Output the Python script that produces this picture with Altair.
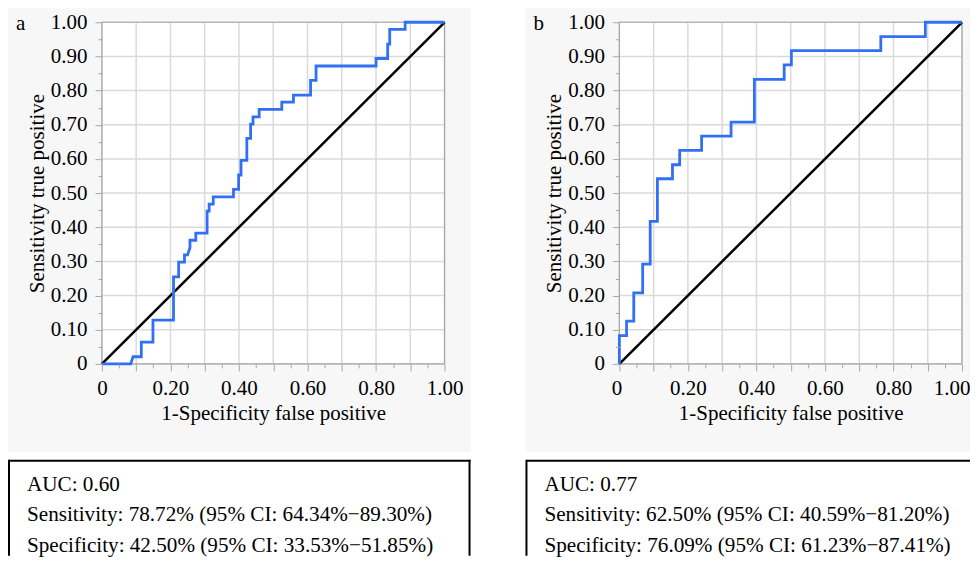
import altair as alt
import pandas as pd

# ROC curve vertices (1-specificity, sensitivity)
fpr_a = [0, 0.084, 0.091, 0.115, 0.115, 0.149, 0.149, 0.209, 0.209, 0.224, 0.224, 0.241, 0.241,
         0.250, 0.257, 0.257, 0.274, 0.274, 0.307, 0.307, 0.313, 0.313, 0.325, 0.325, 0.384, 0.384,
         0.399, 0.399, 0.406, 0.406, 0.423, 0.423, 0.434, 0.434, 0.441, 0.441, 0.459, 0.459, 0.525,
         0.525, 0.559, 0.559, 0.609, 0.609, 0.625, 0.625, 0.800, 0.800, 0.834, 0.834, 0.840, 0.840,
         0.885, 0.885, 1.0]
tpr_a = [0, 0, 0.021, 0.021, 0.064, 0.064, 0.128, 0.128, 0.255, 0.255, 0.298, 0.298, 0.319,
         0.319, 0.340, 0.362, 0.362, 0.383, 0.383, 0.447, 0.447, 0.468, 0.468, 0.489, 0.489, 0.511,
         0.511, 0.553, 0.553, 0.596, 0.596, 0.660, 0.660, 0.702, 0.702, 0.723, 0.723, 0.745, 0.745,
         0.766, 0.766, 0.787, 0.787, 0.830, 0.830, 0.872, 0.872, 0.894, 0.894, 0.936, 0.936, 0.979,
         0.979, 1.0, 1.0]

fpr_b = [0, 0, 0.021, 0.021, 0.042, 0.042, 0.068, 0.068, 0.090, 0.090, 0.111, 0.111, 0.155, 0.155,
         0.176, 0.176, 0.240, 0.240, 0.326, 0.326, 0.394, 0.394, 0.481, 0.481, 0.502, 0.502, 0.763,
         0.763, 0.893, 0.893, 1.0]
tpr_b = [0, 0.083, 0.083, 0.125, 0.125, 0.208, 0.208, 0.292, 0.292, 0.417, 0.417, 0.542, 0.542,
         0.583, 0.583, 0.625, 0.625, 0.667, 0.667, 0.708, 0.708, 0.833, 0.833, 0.875, 0.875, 0.917,
         0.917, 0.958, 0.958, 1.0, 1.0]

diag = [0, 1]
grid_vals = [0.0, 0.1, 0.2, 0.3, 0.4, 0.5, 0.6, 0.7, 0.8, 0.9, 1.0]
tick_vals = [0.0, 0.05, 0.1, 0.15, 0.2, 0.25, 0.3, 0.35, 0.4, 0.45, 0.5, 0.55, 0.6, 0.65, 0.7,
             0.75, 0.8, 0.85, 0.9, 0.95, 1.0]

stats_a = ["AUC: 0.60",
           "Sensitivity: 78.72% (95% CI: 64.34%\u221289.30%)",
           "Specificity: 42.50% (95% CI: 33.53%\u221251.85%)"]
stats_b = ["AUC: 0.77",
           "Sensitivity: 62.50% (95% CI: 40.59%\u221281.20%)",
           "Specificity: 76.09% (95% CI: 61.23%\u221287.41%)"]

W, H = 343, 342
FONT = "Liberation Serif"
BLUE = "#3170f4"
GRID = "#dadada"
FRAME = "#a8a8a8"
BOTTOM = 534

major20 = "round(datum.value*20)%2==0"


def axes(flush):
    if flush:
        extra = dict(labelFlush=True, labelFlushOffset=8)
    else:
        extra = dict(labelFlush=False)
    x_axis = alt.Axis(
        values=tick_vals, grid=False, domain=False, zindex=1,
        tickColor=FRAME, tickWidth=1,
        tickSize={"condition": {"test": major20, "value": 7}, "value": 4},
        labelExpr="datum.value==0 ? '0' : (round(datum.value*20)%4==0 ? format(datum.value,'.2f') : '')",
        labelFont=FONT, labelFontSize=21, labelColor="black", labelPadding=7,
        labelOverlap=False,
        title="1-Specificity false positive", titleFont=FONT, titleFontSize=21,
        titleFontWeight="normal", titleColor="black", titlePadding=4, **extra)
    y_axis = alt.Axis(
        values=tick_vals, grid=False, domain=False, zindex=1,
        tickColor=FRAME, tickWidth=1,
        tickSize={"condition": {"test": major20, "value": 7}, "value": 4},
        labelExpr="datum.value==0 ? '0' : (" + major20 + " ? format(datum.value,'.2f') : '')",
        labelFont=FONT, labelFontSize=21, labelColor="black", labelPadding=8,
        labelOverlap=False, labelFlush=False,
        title="Sensitivity true positive", titleFont=FONT, titleFontSize=21,
        titleFontWeight="normal", titleColor="black", titlePadding=3)
    return x_axis, y_axis


def panel(fpr, tpr, letter, stats, right, right_border, flush):
    x_axis, y_axis = axes(flush)
    xs = alt.Scale(domain=[0, 1], nice=False, zero=False)
    ys = alt.Scale(domain=[0, 1], nice=False, zero=False)
    one = pd.DataFrame({"k": [0]})

    bg = alt.Chart(one).mark_rect(color="#f7f7f7").encode(
        x=alt.value(-94), x2=alt.value(right), y=alt.value(-14), y2=alt.value(430))
    plotbg = alt.Chart(one).mark_rect(color="white").encode(
        x=alt.value(0), x2=alt.value(W), y=alt.value(0), y2=alt.value(H))
    g = pd.DataFrame({"g": grid_vals})
    vgrid = alt.Chart(g).mark_rule(color=GRID, strokeWidth=1.5).encode(
        x=alt.X("g:Q", scale=xs, axis=x_axis))
    hgrid = alt.Chart(g).mark_rule(color=GRID, strokeWidth=1.5).encode(
        y=alt.Y("g:Q", scale=ys, axis=y_axis))
    frame = alt.Chart(one).mark_rect(fill=None, stroke=FRAME, strokeWidth=1.2).encode(
        x=alt.value(0), x2=alt.value(W), y=alt.value(0), y2=alt.value(H))
    d = pd.DataFrame({"d": diag})
    diagline = alt.Chart(d).mark_line(color="black", strokeWidth=2.5).encode(
        x=alt.X("d:Q", scale=xs, axis=x_axis), y=alt.Y("d:Q", scale=ys, axis=y_axis))
    df = pd.DataFrame({"fpr": fpr, "tpr": tpr, "i": list(range(len(fpr)))})
    curve = alt.Chart(df).mark_line(color=BLUE, strokeWidth=2.8, strokeJoin="miter").encode(
        x=alt.X("fpr:Q", scale=xs, axis=x_axis),
        y=alt.Y("tpr:Q", scale=ys, axis=y_axis),
        order="i:Q")
    lab = alt.Chart(one).mark_text(font=FONT, fontSize=21, align="left", baseline="alphabetic",
                                   color="black").encode(
        x=alt.value(-86), y=alt.value(8), text=alt.value(letter))
    txt = alt.Chart(one).mark_text(font=FONT, fontSize=21.2, align="left", baseline="alphabetic",
                                   color="black", lineHeight=30.5).encode(
        x=alt.value(-75), y=alt.value(469), text=alt.value(stats))
    top = alt.Chart(one).mark_rule(color="black", strokeWidth=2).encode(
        x=alt.value(-93), x2=alt.value(right), y=alt.value(439))
    left = alt.Chart(one).mark_rule(color="black", strokeWidth=2).encode(
        x=alt.value(-93), y=alt.value(438), y2=alt.value(BOTTOM))
    layers = [bg, plotbg, vgrid, hgrid, frame, diagline, curve, lab, txt, top, left]
    if right_border:
        rb = alt.Chart(one).mark_rule(color="black", strokeWidth=2).encode(
            x=alt.value(right - 1), y=alt.value(438), y2=alt.value(BOTTOM))
        layers.append(rb)
    return alt.layer(*layers).properties(width=W, height=H)


pa = panel(fpr_a, tpr_a, "a", stats_a, 369, True, False)
pb = panel(fpr_b, tpr_b, "b", stats_b, 351, False, True)

chart = alt.hconcat(pa, pb, spacing=175, bounds="flush").properties(
    padding=0, background="white"
).configure_view(stroke=None)

chart.save("out.html", embed_options={"renderer": "svg", "actions": False})
